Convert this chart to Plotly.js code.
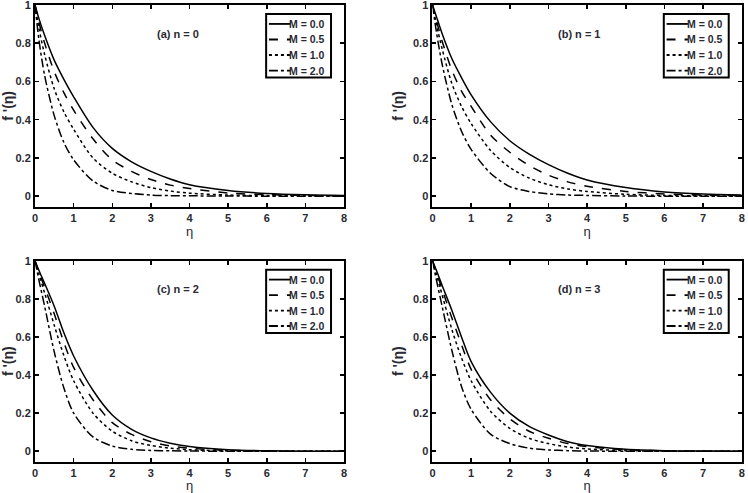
<!DOCTYPE html>
<html>
<head>
<meta charset="utf-8">
<script src="https://cdn.plot.ly/plotly-3.0.1.min.js"></script>
<style>html,body{margin:0;padding:0;background:#fff;}</style>
</head>
<body>
<div id="chart" style="width:748px;height:493px;"></div>
<script>
// eta grid (shared)
const eta = [0, 0.1, 0.25, 0.5, 0.75, 1, 1.5, 2, 2.5, 3, 3.5, 4, 5, 6, 7, 8];
const seriesNames = ["M = 0.0", "M = 0.5", "M = 1.0", "M = 2.0"];
const panelLabels = ["(a) n = 0", "(b) n = 1", "(c) n = 2", "(d) n = 3"];

// (a) n = 0
const a_M00 = [1, 0.93, 0.84, 0.71, 0.61, 0.52, 0.36, 0.25, 0.18, 0.13, 0.09, 0.06, 0.03, 0.014, 0.007, 0.004];
const a_M05 = [1, 0.91, 0.80, 0.65, 0.54, 0.45, 0.30, 0.19, 0.13, 0.087, 0.058, 0.04, 0.017, 0.008, 0.004, 0.002];
const a_M10 = [1, 0.88, 0.74, 0.56, 0.44, 0.35, 0.20, 0.12, 0.075, 0.045, 0.027, 0.016, 0.006, 0.003, 0.002, 0.001];
const a_M20 = [1, 0.82, 0.63, 0.42, 0.28, 0.19, 0.08, 0.03, 0.014, 0.006, 0.003, 0.002, 0.001, 0, 0, 0];
// (b) n = 1
const b_M00 = [1, 0.94, 0.85, 0.72, 0.62, 0.53, 0.39, 0.29, 0.22, 0.165, 0.12, 0.085, 0.045, 0.022, 0.011, 0.006];
const b_M05 = [1, 0.92, 0.81, 0.66, 0.55, 0.47, 0.32, 0.23, 0.16, 0.11, 0.075, 0.052, 0.025, 0.012, 0.006, 0.003];
const b_M10 = [1, 0.90, 0.77, 0.59, 0.47, 0.38, 0.24, 0.15, 0.095, 0.06, 0.038, 0.025, 0.01, 0.004, 0.002, 0.001];
const b_M20 = [1, 0.86, 0.69, 0.48, 0.34, 0.245, 0.12, 0.05, 0.025, 0.012, 0.006, 0.004, 0.001, 0, 0, 0];
// (c) n = 2
const c_M00 = [1, 0.95, 0.88, 0.76, 0.62, 0.50, 0.32, 0.19, 0.115, 0.07, 0.042, 0.025, 0.008, 0.002, 0, 0];
const c_M05 = [1, 0.94, 0.86, 0.72, 0.57, 0.44, 0.27, 0.15, 0.088, 0.05, 0.028, 0.016, 0.005, 0.001, 0, 0];
const c_M10 = [1, 0.93, 0.83, 0.66, 0.50, 0.37, 0.20, 0.105, 0.055, 0.03, 0.016, 0.008, 0.002, 0, 0, 0];
const c_M20 = [1, 0.90, 0.76, 0.52, 0.33, 0.20, 0.075, 0.027, 0.01, 0.004, 0.002, 0.001, 0, 0, 0, 0];
// (d) n = 3
const d_M00 = [1, 0.95, 0.87, 0.74, 0.60, 0.47, 0.31, 0.20, 0.13, 0.085, 0.05, 0.03, 0.01, 0.003, 0.001, 0];
const d_M05 = [1, 0.94, 0.85, 0.70, 0.56, 0.43, 0.27, 0.17, 0.105, 0.068, 0.04, 0.024, 0.008, 0.002, 0, 0];
const d_M10 = [1, 0.93, 0.82, 0.64, 0.49, 0.37, 0.21, 0.12, 0.068, 0.04, 0.022, 0.012, 0.003, 0.001, 0, 0];
const d_M20 = [1, 0.90, 0.76, 0.53, 0.34, 0.22, 0.09, 0.04, 0.016, 0.007, 0.003, 0.001, 0, 0, 0, 0];

const panels = [
  [a_M00, a_M05, a_M10, a_M20],
  [b_M00, b_M05, b_M10, b_M20],
  [c_M00, c_M05, c_M10, c_M20],
  [d_M00, d_M05, d_M10, d_M20]
];

const dashes = ["solid", "dash", "dot", "dashdot"];
const FONT = "Liberation Sans, Arial, sans-serif";
const TXT = "#2a2a33";

const traces = [];
panels.forEach((p, i) => {
  const ax = i === 0 ? "" : String(i + 1);
  p.forEach((ys, j) => {
    traces.push({
      x: eta, y: ys, type: "scatter", mode: "lines",
      name: seriesNames[j], showlegend: false,
      xaxis: "x" + ax, yaxis: "y" + ax,
      line: {color: "#000", width: 1.5, dash: dashes[j], shape: "spline", smoothing: 0.8}
    });
  });
});

const xDomL = [0.0468, 0.4599], xDomR = [0.5782, 0.9916];
const yDomT = [0.5807, 0.9899], yDomB = [0.0635, 0.4712];
const doms = [[xDomL, yDomT], [xDomR, yDomT], [xDomL, yDomB], [xDomR, yDomB]];

function xa(dom, anchor) {
  return {
    domain: dom, anchor: anchor, range: [0, 8], dtick: 1, tick0: 0,
    showline: true, linecolor: "#000", linewidth: 2, mirror: "ticks",
    ticks: "inside", ticklen: 4, tickwidth: 1.5, tickcolor: "#000",
    showgrid: false, zeroline: false, ticklabeloverflow: "allow",
    tickfont: {family: FONT, size: 11, color: TXT, weight: "bold"},
    title: {text: "η", font: {family: FONT, size: 13, color: TXT}, standoff: 0}
  };
}
function ya(dom, anchor) {
  return {
    domain: dom, anchor: anchor, range: [-0.055, 1], dtick: 0.2, tick0: 0,
    showline: true, linecolor: "#000", linewidth: 2, mirror: "ticks",
    ticks: "inside", ticklen: 4, tickwidth: 1.5, tickcolor: "#000",
    showgrid: false, zeroline: false, ticklabeloverflow: "allow",
    tickfont: {family: FONT, size: 11, color: TXT, weight: "bold"},
    title: {text: "f '(η)", font: {family: FONT, size: 14, color: TXT, weight: "bold"}, standoff: 6}
  };
}

const layout = {
  width: 748, height: 493,
  margin: {l: 0, r: 0, t: 0, b: 0},
  paper_bgcolor: "#fff", plot_bgcolor: "#fff",
  showlegend: false,
  annotations: [],
  shapes: [],
  font: {family: FONT}
};

// legend box (axis-domain fractions)
const LB = {x0: 0.748, x1: 0.958, y0: 0.64, y1: 0.955};
const entryY = [0.906, 0.829, 0.752, 0.675];
const sampleX = [0.757, 0.826];

doms.forEach((d, i) => {
  const s = i === 0 ? "" : String(i + 1);
  layout["xaxis" + s] = xa(d[0], "y" + s);
  layout["yaxis" + s] = ya(d[1], "x" + s);
  const xr = "x" + s + " domain", yr = "y" + s + " domain";
  layout.shapes.push({type: "rect", xref: xr, yref: yr, x0: LB.x0, x1: LB.x1, y0: LB.y0, y1: LB.y1,
    line: {color: "#000", width: 2}, fillcolor: "#fff", layer: "above"});
  seriesNames.forEach((nm, j) => {
    layout.shapes.push({type: "line", xref: xr, yref: yr, x0: sampleX[0], x1: sampleX[1],
      y0: entryY[j], y1: entryY[j], line: {color: "#000", width: 1.8, dash: dashes[j]}, layer: "above"});
    layout.annotations.push({text: nm, xref: xr, yref: yr, x: sampleX[1] - 0.004, y: entryY[j],
      xanchor: "left", yanchor: "middle", showarrow: false, borderpad: 0, borderwidth: 0,
      font: {family: FONT, size: 10.5, color: TXT, weight: "bold"}});
  });
  layout.annotations.push({
    text: panelLabels[i], xref: "x" + s, yref: "y" + s,
    x: i % 2 === 0 ? 3.7 : 3.8, y: 0.85, showarrow: false,
    font: {family: FONT, size: 11, color: TXT, weight: "bold"}
  });
});

Plotly.newPlot("chart", traces, layout, {staticPlot: true, displayModeBar: false});
</script>
</body>
</html>
